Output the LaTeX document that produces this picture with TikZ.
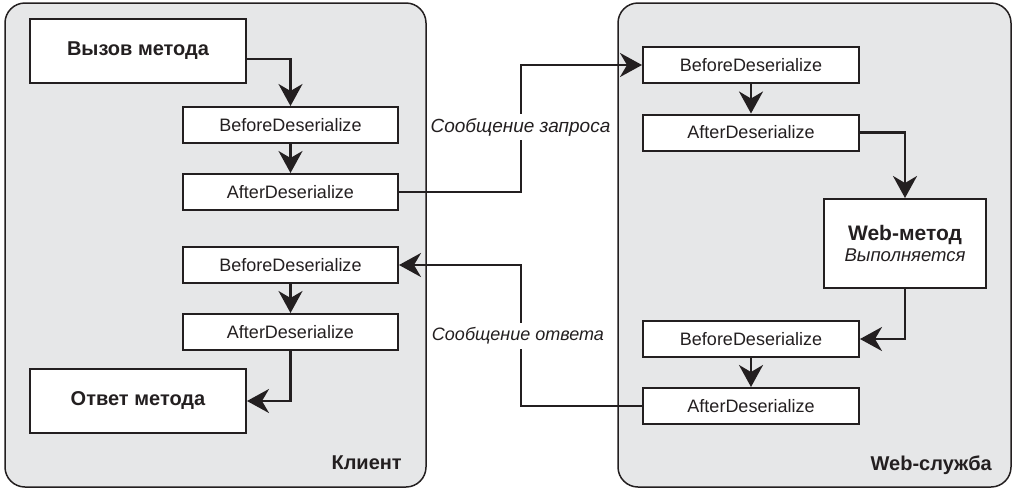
\documentclass[tikz,border=0pt]{standalone}
\usepackage{fontspec}
\setmainfont{Liberation Sans}
\usetikzlibrary{arrows.meta,calc}
\definecolor{ink}{HTML}{231F20}
\definecolor{panelgray}{HTML}{E6E7E8}
\begin{document}
\begin{tikzpicture}[x=1pt,y=-1pt,
  panel/.style={draw=ink,line width=1.5pt,fill=panelgray,rounded corners=20pt},
  bigbox/.style={draw=ink,line width=2pt,fill=white,minimum width=216pt,minimum height=64pt,inner sep=0pt,font=\fontsize{20}{22}\selectfont\bfseries,text=ink},
  evbox/.style={draw=ink,line width=2pt,fill=white,minimum width=215pt,minimum height=36pt,inner sep=0pt,font=\fontsize{18}{20}\selectfont,text=ink},
  conn/.style={draw=ink,line width=2.5pt,-{Stealth[length=22pt,width=24pt,inset=7pt]}},
  msg/.style={fill=white,inner xsep=1pt,inner ysep=4pt,font=\fontsize{19}{21}\selectfont\itshape,text=ink},
  plabel/.style={font=\fontsize{20}{22}\selectfont\bfseries,text=ink,inner sep=0pt}]
\useasboundingbox (0,0) rectangle (1012,488);
% panels
\draw[panel] (5,3) rectangle (426,487);
\draw[panel] (618,3) rectangle (1011,487);
% left side
\node[bigbox] (call) at (138,51) {Вызов метода};
\node[evbox] (lb1) at (290.5,125) {BeforeDeserialize};
\node[evbox] (la1) at (290.5,192) {AfterDeserialize};
\node[evbox] (lb2) at (290.5,265) {BeforeDeserialize};
\node[evbox] (la2) at (290.5,332) {AfterDeserialize};
\node[bigbox] (resp) at (138,401) {Ответ метода};
\node[plabel,anchor=base east] (client) at (402,469) {Клиент};
% right side
\node[evbox,minimum width=216pt] (rb1) at (751,65) {BeforeDeserialize};
\node[evbox,minimum width=216pt] (ra1) at (751,132.5) {AfterDeserialize};
\node[draw=ink,line width=2pt,fill=white,minimum width=162pt,minimum height=89pt,inner sep=0pt,align=center,text=ink] (wm) at (905,243.5)
  {{\fontsize{21}{23}\selectfont\bfseries Web-метод}\\[4pt]{\fontsize{18.5}{20}\selectfont\itshape Выполняется}};
\node[evbox,minimum width=216pt] (rb2) at (751,339) {BeforeDeserialize};
\node[evbox,minimum width=216pt] (ra2) at (751,406) {AfterDeserialize};
\node[plabel,anchor=base east] (service) at (992,470) {Web-служба};
% coordinates for message routes
\coordinate (reqx) at (521,0);
\coordinate (respx) at (521,0);
% left arrows
\draw[conn] ([yshift=-8pt]call.east) -| (lb1.north);
\draw[conn] (lb1.south) -- (la1.north);
\draw[conn] (lb2.south) -- (la2.north);
\draw[conn] (la2.south) |- (resp.east);
% right arrows
\draw[conn] (rb1.south) -- (ra1.north);
\draw[conn] (ra1.east) -| (wm.north);
\draw[conn] (wm.south) |- (rb2.east);
\draw[conn] (rb2.south) -- (ra2.north);
% request message
\draw[conn] (la1.east) -- (la1.east -| reqx) -- (rb1.west -| reqx) -- (rb1.west);
\node[msg] (reqlabel) at (520.5,127) {Сообщение запроса};
% response message
\draw[conn] (ra2.west) -- (ra2.west -| respx) -- (lb2.east -| respx) -- (lb2.east);
\node[msg,font=\fontsize{18}{20}\selectfont\itshape,inner ysep=5pt] (resplabel) at (518,336) {Сообщение ответа};
\end{tikzpicture}
\end{document}
